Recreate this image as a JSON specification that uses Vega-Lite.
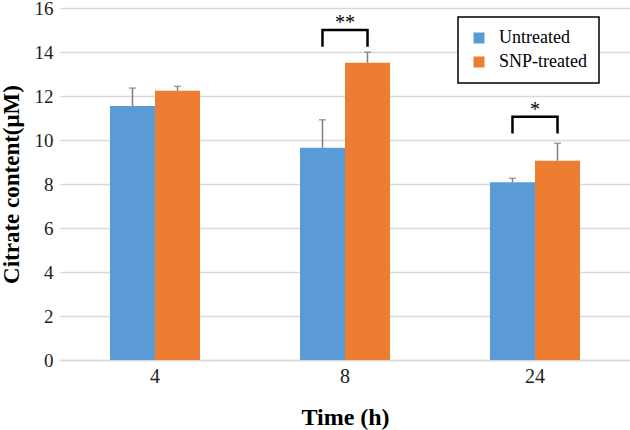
{
  "$schema": "https://vega.github.io/schema/vega-lite/v6.json",
  "autosize": {"type": "none"},
  "width": 570,
  "height": 352,
  "padding": {"left": 60, "top": 8, "right": 0, "bottom": 70},
  "background": "white",
  "config": {
    "view": {"stroke": null},
    "font": "Liberation Serif, Times New Roman, serif"
  },
  "datasets": {
    "bars": [
      {"time": "4", "group": "Untreated", "value": 11.55, "upper": 12.36},
      {"time": "4", "group": "SNP-treated", "value": 12.24, "upper": 12.44},
      {"time": "8", "group": "Untreated", "value": 9.65, "upper": 10.92},
      {"time": "8", "group": "SNP-treated", "value": 13.51, "upper": 13.99},
      {"time": "24", "group": "Untreated", "value": 8.08, "upper": 8.26},
      {"time": "24", "group": "SNP-treated", "value": 9.06, "upper": 9.85}
    ],
    "brackets": [
      {"bracket": "b8", "time": "8", "group": "Untreated", "y": 14.24, "k": 1},
      {"bracket": "b8", "time": "8", "group": "Untreated", "y": 15.0, "k": 2},
      {"bracket": "b8", "time": "8", "group": "SNP-treated", "y": 15.0, "k": 3},
      {"bracket": "b8", "time": "8", "group": "SNP-treated", "y": 14.24, "k": 4},
      {"bracket": "b24", "time": "24", "group": "Untreated", "y": 10.3, "k": 1},
      {"bracket": "b24", "time": "24", "group": "Untreated", "y": 11.06, "k": 2},
      {"bracket": "b24", "time": "24", "group": "SNP-treated", "y": 11.06, "k": 3},
      {"bracket": "b24", "time": "24", "group": "SNP-treated", "y": 10.3, "k": 4}
    ],
    "stars": [
      {"time": "8", "label": "**", "y": 15.0},
      {"time": "24", "label": "*", "y": 11.06}
    ]
  },
  "layer": [
    {
      "data": {"name": "bars"},
      "mark": {"type": "bar"},
      "encoding": {
        "x": {
          "field": "time", "type": "nominal", "sort": ["4", "8", "24"],
          "scale": {"paddingInner": 0.526, "paddingOuter": 0.263},
          "axis": {
            "title": "Time (h)", "labelAngle": 0, "ticks": false,
            "domainColor": "#d9d9d9", "domainWidth": 1.5,
            "labelFont": "Liberation Serif, Times New Roman, serif", "labelFontSize": 20, "labelColor": "#222",
            "labelPadding": 6,
            "titleFont": "Liberation Serif, Times New Roman, serif", "titleFontSize": 24, "titleFontWeight": "bold",
            "titleColor": "black", "titlePadding": 19
          }
        },
        "xOffset": {
          "field": "group", "type": "nominal", "sort": ["Untreated", "SNP-treated"],
          "scale": {"paddingInner": 0, "paddingOuter": 0}
        },
        "y": {
          "field": "value", "type": "quantitative",
          "scale": {"domain": [0, 16], "nice": false},
          "axis": {
            "title": "Citrate content(μM)", "values": [0, 2, 4, 6, 8, 10, 12, 14, 16],
            "ticks": false, "domain": false,
            "gridColor": "#d9d9d9", "gridWidth": 1.5,
            "labelFont": "Liberation Serif, Times New Roman, serif", "labelFontSize": 19, "labelColor": "#222",
            "labelPadding": 7,
            "titleFont": "Liberation Serif, Times New Roman, serif", "titleFontSize": 23, "titleFontWeight": "bold",
            "titleColor": "black", "titlePadding": 11
          }
        },
        "color": {
          "field": "group", "type": "nominal", "sort": ["Untreated", "SNP-treated"],
          "scale": {"domain": ["Untreated", "SNP-treated"], "range": ["#5b9bd5", "#ed7d31"]},
          "legend": {
            "title": null, "orient": "none", "legendX": 398, "legendY": 9,
            "strokeColor": "black", "fillColor": "white",
            "padding": 12, "symbolType": "square", "symbolSize": 121,
            "symbolStrokeWidth": 0,
            "labelFont": "Liberation Serif, Times New Roman, serif", "labelFontSize": 18, "labelColor": "black",
            "labelOffset": 11, "rowPadding": 6,
            "encode": {"legend": {"update": {"strokeWidth": {"value": 1.5}}}}
          }
        }
      }
    },
    {
      "data": {"name": "bars"},
      "mark": {"type": "rule", "color": "#7f7f7f", "strokeWidth": 1.5},
      "encoding": {
        "x": {"field": "time", "type": "nominal", "sort": ["4", "8", "24"]},
        "xOffset": {"field": "group", "type": "nominal", "sort": ["Untreated", "SNP-treated"]},
        "y": {"field": "value", "type": "quantitative"},
        "y2": {"field": "upper"}
      }
    },
    {
      "data": {"name": "bars"},
      "mark": {"type": "tick", "color": "#7f7f7f", "size": 7, "thickness": 1.5, "orient": "horizontal"},
      "encoding": {
        "x": {"field": "time", "type": "nominal", "sort": ["4", "8", "24"]},
        "xOffset": {"field": "group", "type": "nominal", "sort": ["Untreated", "SNP-treated"]},
        "y": {"field": "upper", "type": "quantitative"}
      }
    },
    {
      "data": {"name": "brackets"},
      "mark": {"type": "line", "color": "black", "strokeWidth": 2.5, "strokeJoin": "miter", "strokeCap": "butt"},
      "encoding": {
        "x": {"field": "time", "type": "nominal", "sort": ["4", "8", "24"]},
        "xOffset": {"field": "group", "type": "nominal", "sort": ["Untreated", "SNP-treated"]},
        "y": {"field": "y", "type": "quantitative"},
        "detail": {"field": "bracket"},
        "order": {"field": "k", "type": "quantitative"}
      }
    },
    {
      "data": {"name": "stars"},
      "mark": {"type": "text", "font": "Liberation Serif, Times New Roman, serif", "fontSize": 20, "baseline": "alphabetic", "align": "center", "color": "black", "dy": -1},
      "encoding": {
        "x": {"field": "time", "type": "nominal", "sort": ["4", "8", "24"], "bandPosition": 0.5},
        "y": {"field": "y", "type": "quantitative"},
        "text": {"field": "label"}
      }
    }
  ]
}
